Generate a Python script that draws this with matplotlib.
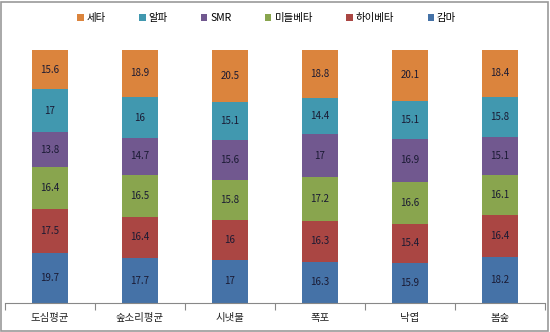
import matplotlib
matplotlib.use("Agg")
import matplotlib.pyplot as plt
import numpy as np
from matplotlib.patches import Rectangle

plt.rcParams['font.family'] = ['Noto Sans CJK KR', 'DejaVu Sans']

categories = ['도심평균', '숲소리평균', '시냇물', '폭포', '낙엽', '봄숲']
series_names = ['감마', '하이베타', '미들베타', 'SMR', '알파', '세타']
gamma = [19.7, 17.7, 17, 16.3, 15.9, 18.2]
highbeta = [17.5, 16.4, 16, 16.3, 15.4, 16.4]
midbeta = [16.4, 16.5, 15.8, 17.2, 16.6, 16.1]
smr = [13.8, 14.7, 15.6, 17, 16.9, 15.1]
alpha = [17, 16, 15.1, 14.4, 15.1, 15.8]
theta = [15.6, 18.9, 20.5, 18.8, 20.1, 18.4]
series = [gamma, highbeta, midbeta, smr, alpha, theta]
colors = ['#4572A7', '#AA4643', '#89A54E', '#71588F', '#4198AF', '#DB843D']

fig = plt.figure(figsize=(5.5, 3.32), dpi=100)
ax = fig.add_axes([5/550, 29/332, 540/550, 253/332])

x = np.arange(len(categories))
bottom = np.zeros(len(categories))
handles = []
for name, vals, c in zip(series_names, series, colors):
    vals = np.array(vals)
    b = ax.bar(x, vals, 0.39, bottom=bottom, color=c, label=name, linewidth=0)
    handles.append(b)
    for xi, v, bo in zip(x, vals, bottom):
        ax.text(xi, bo + v / 2, f'{v:g}', ha='center', va='center',
                fontsize=7, color='#1a1a33')
    bottom += vals

ax.set_xlim(-0.5, len(categories) - 0.5)
ax.set_ylim(0, 100)
ax.set_yticks([])
for s in ['top', 'left', 'right']:
    ax.spines[s].set_visible(False)
ax.spines['bottom'].set_color('#888888')
ax.spines['bottom'].set_linewidth(0.8)
ax.set_xticks(x)
ax.set_xticklabels(categories, fontsize=7.5, color='#222222')
ax.tick_params(axis='x', which='major', length=0, pad=7)
ax.set_xticks(np.arange(-0.5, len(categories), 1), minor=True)
ax.tick_params(axis='x', which='minor', length=5, color='#888888', width=0.8)

leg = fig.legend(handles[::-1], series_names[::-1], loc='center',
                 bbox_to_anchor=(0.485, 0.945), ncol=6, frameon=False,
                 fontsize=7.5, handlelength=0.6, handleheight=0.6,
                 handletextpad=0.3, columnspacing=3.2)

fig.patches.append(Rectangle((0.002, 0.003), 0.994, 0.992, transform=fig.transFigure,
                             fill=False, edgecolor='#999999', linewidth=1.2))

fig.savefig('out.png', dpi=100)
